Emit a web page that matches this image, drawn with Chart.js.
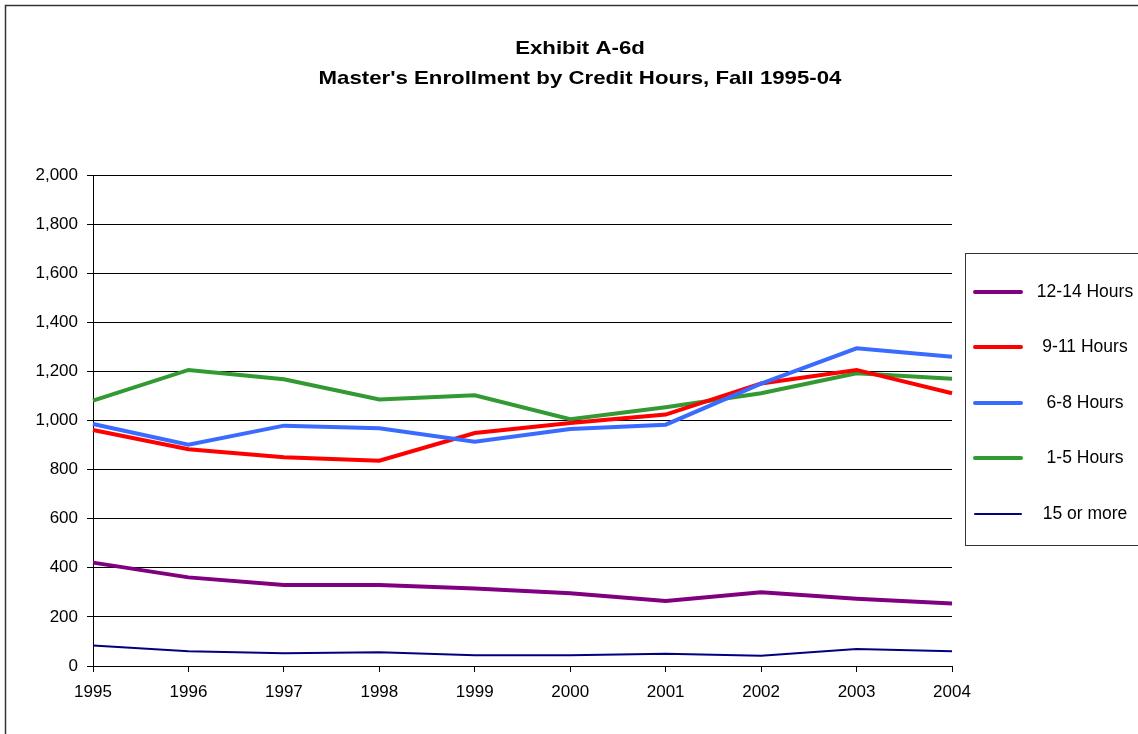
<!DOCTYPE html>
<html>
<head>
<meta charset="utf-8">
<script src="https://cdn.jsdelivr.net/npm/chart.js@4/dist/chart.umd.min.js"></script>
<style>
html,body{margin:0;padding:0;background:#fff;}
#wrap{width:1138px;height:734px;position:relative;}
</style>
</head>
<body>
<div id="wrap"><canvas id="c" width="1138" height="734"></canvas></div>
<script>
const titleLines = ["Exhibit A-6d", "Master's Enrollment by Credit Hours, Fall 1995-04"];
const years = ["1995","1996","1997","1998","1999","2000","2001","2002","2003","2004"];
const yTicks = [0,200,400,600,800,1000,1200,1400,1600,1800,2000];

const seriesNames = ["12-14 Hours","9-11 Hours","6-8 Hours","1-5 Hours","15 or more"];
const hours12to14 = [421,361,330,330,316,296,265,300,274,255];
const hours9to11  = [961,883,850,836,949,990,1024,1151,1206,1111];
const hours6to8   = [986,901,979,968,914,965,983,1150,1294,1260];
const hours1to5   = [1081,1206,1168,1086,1103,1005,1054,1111,1192,1170];
const hours15plus = [84,60,52,56,44,44,50,42,69,60];

const seriesValues = [hours12to14, hours9to11, hours6to8, hours1to5, hours15plus];
const seriesColors = ["#800080","#FF0000","#3A6BFF","#339933","#000080"];
const seriesWidths = [4,4,4,4,2];

const FONT = "'Liberation Sans', Arial, sans-serif";

const framePlugin = {
  id: 'frame',
  beforeDraw(chart){
    const ctx = chart.ctx;
    ctx.save();
    ctx.fillStyle = '#fff';
    ctx.fillRect(0,0,chart.width,chart.height);
    ctx.strokeStyle = '#333';
    ctx.lineWidth = 1.5;
    ctx.beginPath();
    ctx.moveTo(5.5, chart.height);
    ctx.lineTo(5.5, 5.5);
    ctx.lineTo(chart.width, 5.5);
    ctx.stroke();
    // title (horizontally widened like the reference)
    ctx.fillStyle = '#000';
    ctx.font = "bold 19px " + FONT;
    ctx.textAlign = 'center';
    ctx.textBaseline = 'middle';
    const sx = 1.17;
    ctx.save();
    ctx.translate(580, 0);
    ctx.scale(sx, 1);
    ctx.fillText(titleLines[0], 0, 49);
    ctx.fillText(titleLines[1], 0, 79);
    ctx.restore();
    ctx.restore();
  },
  afterDraw(chart){
    const ctx = chart.ctx;
    ctx.save();
    ctx.strokeStyle = '#333';
    ctx.lineWidth = 1;
    ctx.strokeRect(965.5, 253.5, 200, 292);
    const rows = [292,347,403,458,514];
    chart.data.datasets.forEach((ds,i)=>{
      const y = rows[i];
      ctx.strokeStyle = ds.borderColor;
      ctx.lineWidth = ds.borderWidth;
      ctx.lineCap = 'round';
      ctx.beginPath();
      ctx.moveTo(975, y);
      ctx.lineTo(1021, y);
      ctx.stroke();
      ctx.fillStyle = '#000';
      ctx.font = "17.5px " + FONT;
      ctx.textAlign = 'center';
      ctx.textBaseline = 'middle';
      ctx.fillText(ds.label, 1085, y);
    });
    ctx.restore();
  }
};

new Chart(document.getElementById('c'), {
  type: 'line',
  data: {
    labels: years,
    datasets: seriesNames.map((n,i)=>({
      label: n,
      data: seriesValues[i],
      borderColor: seriesColors[i],
      backgroundColor: seriesColors[i],
      borderWidth: seriesWidths[i],
      pointRadius: 0,
      tension: 0,
      fill: false,
      order: [3,2,1,4,5][i]
    }))
  },
  options: {
    responsive: false,
    animation: false,
    devicePixelRatio: 1,
    layout: { padding: { left: 0, top: 175, right: 186, bottom: 0 } },
    plugins: { legend: { display: false }, title: { display: false }, tooltip: { enabled: false } },
    scales: {
      x: {
        type: 'category',
        offset: false,
        afterFit(s){ s.height = 68; },
        grid: { drawOnChartArea: false, drawTicks: true, tickLength: 6, color: '#000' },
        border: { display: true, color: '#000', width: 1 },
        ticks: { color: '#000', font: { family: FONT, size: 17 }, padding: 10, maxRotation: 0, autoSkip: false }
      },
      y: {
        min: 0, max: 2000,
        afterFit(s){ s.width = 93; },
        afterBuildTicks(s){ s.ticks = yTicks.map(v=>({value:v})); },
        grid: { color: '#000', lineWidth: 1, drawTicks: true, tickLength: 6 },
        border: { display: true, color: '#000', width: 1 },
        ticks: {
          color: '#000', font: { family: FONT, size: 17 }, padding: 9,
          callback: v => v.toLocaleString('en-US')
        }
      }
    }
  },
  plugins: [framePlugin]
});
</script>
</body>
</html>
